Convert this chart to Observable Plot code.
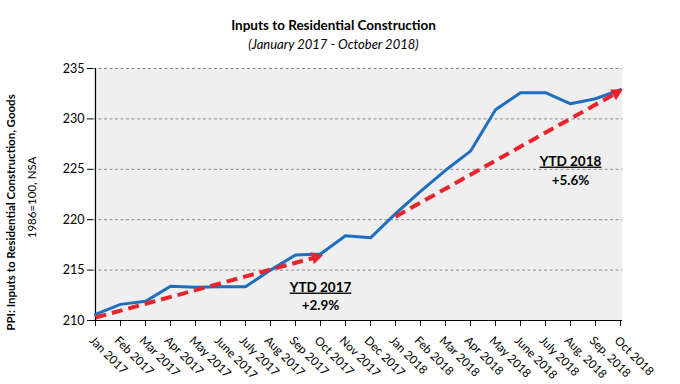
<!DOCTYPE html>
<html>
<head>
<meta charset="utf-8">
<script src="https://cdn.jsdelivr.net/npm/d3@7"></script>
<script src="https://cdn.jsdelivr.net/npm/@observablehq/plot@0.6"></script>
<style>
  body { margin: 0; background: white; }
  #wrap { width: 680px; font-family: Lato, sans-serif; color: #000; }
  #head { position: relative; height: 55px; }
  #title { position: absolute; left: 0; width: 667px; top: 17px; text-align: center; font-weight: bold; font-size: 13.5px; }
  #sub { position: absolute; left: 0; width: 667px; top: 36px; text-align: center; font-style: italic; font-size: 13px; }
</style>
</head>
<body>
<div id="wrap">
  <div id="head">
    <div id="title">Inputs to Residential Construction</div>
    <div id="sub">(January 2017 - October 2018)</div>
  </div>
  <div id="chart"></div>
</div>
<script>
const months = ["Jan 2017","Feb 2017","Mar 2017","Apr 2017","May 2017","June 2017","July 2017","Aug 2017","Sep 2017","Oct 2017","Nov 2017","Dec 2017","Jan 2018","Feb 2018","Mar 2018","Apr 2018","May 2018","June 2018","July 2018","Aug. 2018","Sep. 2018","Oct 2018"];
const ppi = [210.6,211.6,211.9,213.4,213.3,213.35,213.35,215.0,216.5,216.6,218.4,218.2,220.6,222.8,224.9,226.8,230.9,232.6,232.6,231.5,232.0,232.9];
const yTicks = [210,215,220,225,230,235];
const ytdFrom = ["Jan 2017","Jan 2018"];
const ytdTo = ["Oct 2017","Oct 2018"];
const ytdStart = [210.3,220.3];
const ytdEnd = [216.4,232.8];
const ytdLabels = ["YTD 2017","YTD 2018"];
const ytdPct = ["+2.9%","+5.6%"];
const labelMonth = ["Oct 2017","Aug. 2018"];
const labelY = [213.3,225.8];
const pctY = [211.45,223.9];

const data = months.map((m,i)=>({month:m, value:ppi[i]}));
const arrows = ytdFrom.map((f,i)=>({x1:f, x2:ytdTo[i], y1:ytdStart[i], y2:ytdEnd[i]}));
const labels = ytdLabels.map((t,i)=>({month:labelMonth[i], y:labelY[i], text:t}));
const pcts = ytdPct.map((t,i)=>({month:labelMonth[i], y:pctY[i], text:t}));

const red = "#e8232b";
const plot = Plot.plot({
  width: 680, height: 329,
  marginLeft: 93, marginRight: 58, marginTop: 13, marginBottom: 64,
  style: {fontFamily: "Lato, sans-serif", fontSize: "12px", background: "white", color: "#000", overflow: "visible"},
  x: {type: "point", domain: months, padding: 0, label: null},
  y: {domain: [210,235], label: null},
  marks: [
    Plot.frame({fill: "#efefef", stroke: null}),
    Plot.gridY(yTicks.filter(t=>t>210), {stroke: "#8a8a8a", strokeOpacity: 1, strokeDasharray: "3,2.5"}),
    Plot.ruleX([months[0]], {stroke: "#000", strokeWidth: 1.2}),
    Plot.ruleY([210], {stroke: "#000", strokeWidth: 1.2}),
    Plot.axisY({ticks: yTicks, tickSize: 6, tickPadding: 3, fontSize: 12.5, label: null}),
    Plot.axisX({tickSize: 6, text: null, label: null}),
    Plot.axisX({tickSize: 0, tickRotate: 45, tickPadding: 13, dx: -4, dy: 5, fontSize: 11.8, label: null}),
    Plot.line(data, {x: "month", y: "value", stroke: "#1f6fc0", strokeWidth: 3}),
    Plot.link(arrows, {x1: "x1", y1: "y1", x2: "x2", y2: "y2", stroke: red, strokeWidth: 4, strokeDasharray: "11,6", markerEnd: "arrow"}),
    Plot.text(labels, {x: "month", y: "y", text: "text", fontWeight: "bold", fontSize: 13.5}),
    Plot.text(pcts, {x: "month", y: "y", text: "text", fontWeight: "bold", fontSize: 13.5}),
    Plot.text(["PPI: Inputs to Residential Construction, Goods"], {text: d=>d, frameAnchor: "left", textAnchor: "middle", rotate: -90, dx: -82, dy: 18, fontWeight: "bold", fontSize: 11.5}),
    Plot.text(["1986=100, NSA"], {text: d=>d, frameAnchor: "left", textAnchor: "middle", rotate: -90, dx: -61, dy: 3, fontSize: 11.5})
  ]
});
// filled arrowheads
plot.querySelectorAll("marker").forEach(m => {
  m.setAttribute("fill", red);
  m.setAttribute("stroke", "none");
  m.querySelectorAll("path").forEach(p => { p.setAttribute("d", "M-3.2,-2.3L1,0L-3.2,2.3Z"); p.setAttribute("fill", red); p.setAttribute("stroke", "none"); });
});
// underline YTD labels
plot.querySelectorAll("text").forEach(t => {
  if (t.textContent.startsWith("YTD")) t.setAttribute("text-decoration", "underline");
});
document.getElementById("chart").appendChild(plot);
</script>
</body>
</html>
